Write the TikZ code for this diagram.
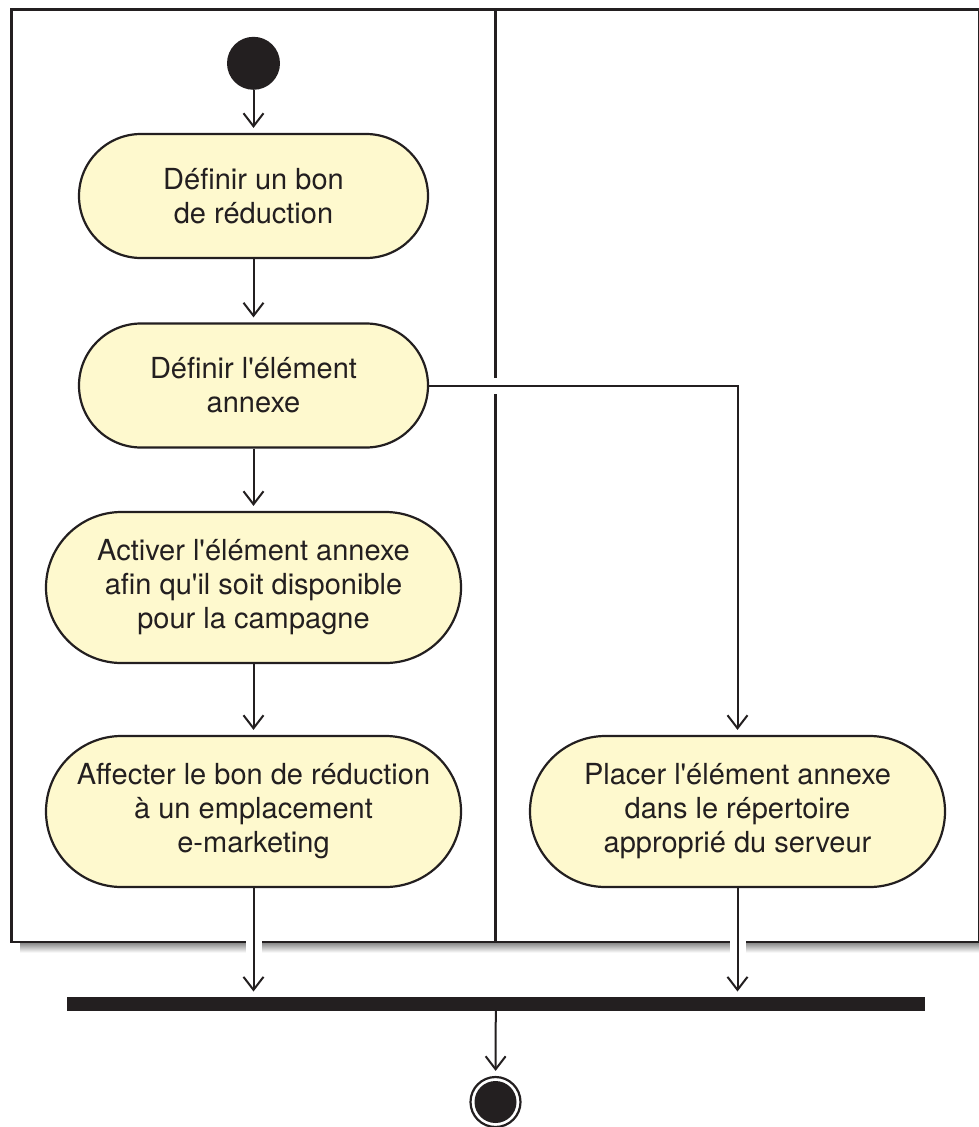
\documentclass[tikz,border=0pt]{standalone}
\usepackage{fontspec}
\setmainfont{TeX Gyre Heros}[Ligatures=TeXOff]
\usetikzlibrary{arrows.meta}

\definecolor{ink}{RGB}{35,31,32}
\definecolor{actfill}{RGB}{254,249,206}
\definecolor{shade}{RGB}{230,231,230}

% layers: swimlane frame at the bottom, white gaps for crossings above it
\pgfdeclarelayer{lanes}
\pgfdeclarelayer{halo}
\pgfsetlayers{lanes,halo,main}

\tikzset{
  action/.style={draw=ink, fill=actfill, line width=2.2pt, rounded corners=#1,
    inner sep=0pt, align=center, text=ink,
    font=\fontsize{29}{34}\selectfont},
  small/.style={action=62pt, minimum width=349pt, minimum height=124pt},
  large/.style={action=75.5pt, minimum width=415pt, minimum height=151pt},
  initial/.style={circle, fill=ink, minimum size=53pt, inner sep=0pt},
  final/.style={circle, draw=ink, line width=2.2pt, minimum size=50pt, inner sep=0pt,
    path picture={\fill[ink] (path picture bounding box.center) circle (21pt);}},
  joinbar/.style={fill=ink, minimum width=858pt, minimum height=14pt, inner sep=0pt},
  flow/.style={draw=ink, line width=2pt,
    -{Straight Barb[length=13pt, width=20pt, line width=2pt]}, shorten >=5pt},
  halo/.style={draw=white, line width=16pt},
  lane/.style={draw=ink, line width=2.7pt},
}

% connector with a white underlay that opens gaps in the lane lines it crosses
\newcommand{\link}[3][--]{%
  \begin{pgfonlayer}{halo}\draw[halo] (#2) #1 (#3);\end{pgfonlayer}%
  \draw[flow] (#2) #1 (#3);}

\begin{document}
\begin{tikzpicture}[x=1pt, y=-1pt]
  \useasboundingbox (0,0) rectangle (979,1127);

  % swimlanes
  \begin{pgfonlayer}{lanes}
    \fill[shade] (20,942) rectangle (990,952.7);
    \fill[white] (11.5,9.7) rectangle (979,942);
    \draw[lane] (11.5,9.7) rectangle (979,942);
    \draw[lane] (495.7,9.7) -- (495.7,942);
  \end{pgfonlayer}

  % activities
  \node[initial] (start) at (253.5,63.3) {};
  \node[small] (b1) at (253.5,196) {Définir un bon\\de réduction};
  \node[small] (b2) at (253.5,385.5) {Définir l'élément\\annexe};
  \node[large] (b3) at (253.5,587.5) {Activer l'élément annexe\\afin qu'il soit disponible\\pour la campagne};
  \node[large] (b4) at (253.5,811.5) {Affecter le bon de réduction\\à un emplacement\\e-marketing};
  \node[large] (b5) at (737.5,811.5) {Placer l'élément annexe\\dans le répertoire\\approprié du serveur};
  \node[joinbar] (join) at (495.8,1003.7) {};
  \node[final] (end) at (495.5,1102) {};

  % control flow
  \link{start}{b1}
  \link{b1}{b2}
  \link{b2}{b3}
  \link{b3}{b4}
  \link[-|]{b2}{b5}
  \link{b4}{b4 |- join.north}
  \link{b5}{b5 |- join.north}
  \link{join}{end}
\end{tikzpicture}
\end{document}
